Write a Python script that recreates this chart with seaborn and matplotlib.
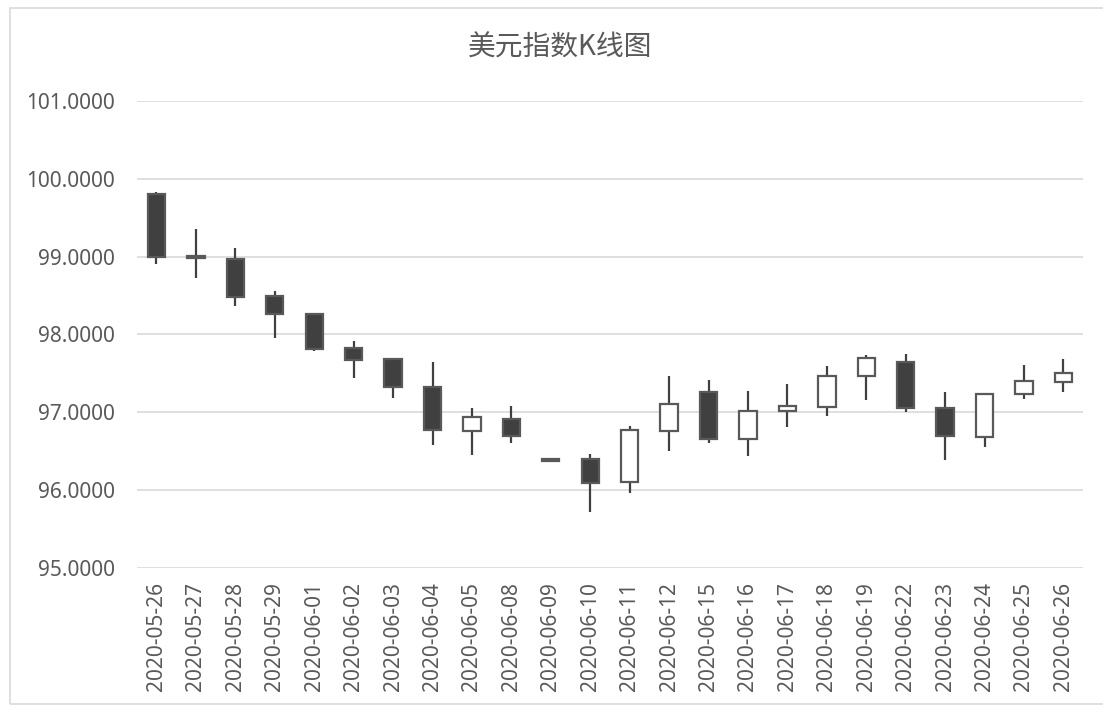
"""美元指数K线图 - candlestick chart recreated with seaborn/matplotlib."""

import numpy as np
import pandas as pd
import matplotlib
matplotlib.use("Agg")
import matplotlib.pyplot as plt
from matplotlib.patches import Rectangle
import seaborn as sns

dates = [
    "2020-05-26", "2020-05-27", "2020-05-28", "2020-05-29", "2020-06-01",
    "2020-06-02", "2020-06-03", "2020-06-04", "2020-06-05", "2020-06-08",
    "2020-06-09", "2020-06-10", "2020-06-11", "2020-06-12", "2020-06-15",
    "2020-06-16", "2020-06-17", "2020-06-18", "2020-06-19", "2020-06-22",
    "2020-06-23", "2020-06-24", "2020-06-25", "2020-06-26",
]
open_ = [99.80, 99.01, 98.97, 98.49, 98.26, 97.82, 97.68, 97.33, 96.76, 96.91,
         96.40, 96.40, 96.10, 96.76, 97.26, 96.66, 97.02, 97.07, 97.46, 97.65,
         97.05, 96.68, 97.23, 97.39]
high = [99.83, 99.36, 99.11, 98.56, 98.26, 97.92, 97.70, 97.65, 97.06, 97.08,
        96.40, 96.47, 96.83, 97.47, 97.41, 97.27, 97.36, 97.59, 97.73, 97.75,
        97.26, 97.25, 97.61, 97.69]
low = [98.90, 98.72, 98.36, 97.95, 97.79, 97.44, 97.18, 96.58, 96.45, 96.60,
       96.38, 95.72, 95.96, 96.50, 96.60, 96.44, 96.81, 96.95, 97.16, 97.01,
       96.39, 96.56, 97.17, 97.26]
close = [99.00, 98.98, 98.48, 98.26, 97.81, 97.67, 97.32, 96.77, 96.94, 96.70,
         96.38, 96.09, 96.77, 97.11, 96.66, 97.02, 97.08, 97.47, 97.70, 97.05,
         96.69, 97.23, 97.40, 97.51]

df = pd.DataFrame({"date": dates, "open": open_, "high": high,
                   "low": low, "close": close})
df["x"] = np.arange(len(df))
df["up"] = df["close"] >= df["open"]

sns.set_theme(style="white")
plt.rcParams["font.family"] = ["Noto Sans", "Noto Sans CJK SC", "DejaVu Sans"]

fig = plt.figure(figsize=(11.03, 7.06), dpi=100)
ax = fig.add_axes([0.124, 0.1955, 0.858, 0.6615])

# chart border
fig.patches.append(Rectangle((10 / 1103, 0.003), 1.2, 0.985, transform=fig.transFigure,
                             fill=False, edgecolor="#d9d9d9", linewidth=1.2))

dark = "#404040"
edge = "#595959"

# wicks
ax.vlines(df["x"], df["low"], df["high"], color=dark, linewidth=1.6, zorder=2)

# bodies
bottoms = np.minimum(df["open"], df["close"])
heights = np.maximum(np.abs(df["close"] - df["open"]), 0.015)
faces = ["white" if u else dark for u in df["up"]]
ax.bar(df["x"], heights, bottom=bottoms, width=0.44, color=faces,
       edgecolor=edge, linewidth=1.6, zorder=3)

ax.set_ylim(95, 101)
ax.set_xlim(-0.5, len(df) - 0.5)
ax.set_yticks(np.arange(95, 101.5, 1))
ax.set_yticklabels([f"{v:.4f}" for v in np.arange(95, 101.5, 1)])
ax.set_xticks(df["x"])
ax.set_xticklabels(df["date"], rotation=90)
ax.tick_params(axis="both", labelsize=15, labelcolor="#595959", length=0)
ax.tick_params(axis="y", pad=16)
ax.tick_params(axis="x", pad=10)
ax.grid(axis="y", color="#d9d9d9", linewidth=1.2)
ax.set_axisbelow(True)
for s in ax.spines.values():
    s.set_visible(False)

fig.text(0.508, 0.933, "美元指数K线图", ha="center", va="center",
         fontsize=20, color="#595959", family=["Noto Sans CJK SC", "DejaVu Sans"])

fig.savefig("out.png", dpi=100)
